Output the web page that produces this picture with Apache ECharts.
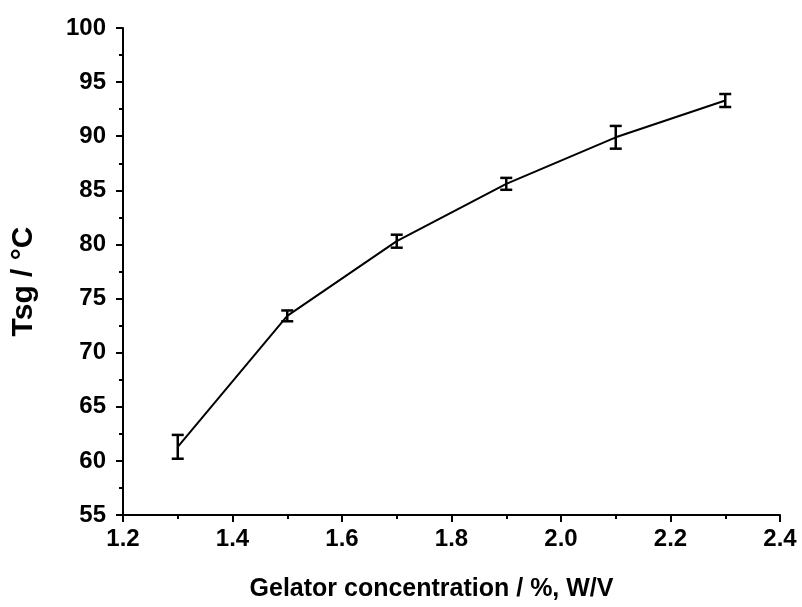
<!DOCTYPE html>
<html><head><meta charset="utf-8">
<script src="https://cdn.jsdelivr.net/npm/echarts@6/dist/echarts.min.js"></script>
<style>html,body{margin:0;padding:0;background:#fff}#c{width:802px;height:607px}</style>
</head><body><div id="c"></div>
<script>
const xValues = [1.3, 1.5, 1.7, 1.9, 2.1, 2.3];
const yValues = [61.3, 73.4, 80.3, 85.6, 89.9, 93.3];
const yErrors = [1.1, 0.5, 0.6, 0.55, 1.05, 0.6];

const lineData = xValues.map((x, i) => [x, yValues[i]]);
const errData = xValues.map((x, i) => [x, yValues[i] - yErrors[i], yValues[i] + yErrors[i]]);

const chart = echarts.init(document.getElementById('c'));
const font = '"Liberation Sans", Arial, sans-serif';
chart.setOption({
  animation: false,
  backgroundColor: '#fff',
  grid: {left: 123, right: 22, top: 28, bottom: 92},
  xAxis: {
    type: 'value', min: 1.2, max: 2.4, interval: 0.2,
    name: 'Gelator concentration / %, W/V', nameLocation: 'middle', nameGap: 62,
    nameTextStyle: {fontFamily: font, fontWeight: 'bold', fontSize: 25, color: '#000', padding: [0, 40, 0, 0]},
    axisLine: {show: true, lineStyle: {color: '#000', width: 2}},
    axisTick: {show: true, inside: false, length: 7, lineStyle: {color: '#000', width: 2}},
    minorTick: {show: true, splitNumber: 2, length: 4, lineStyle: {color: '#000', width: 2}},
    splitLine: {show: false},
    axisLabel: {fontFamily: font, fontWeight: 'bold', fontSize: 24, color: '#000', margin: 12,
      formatter: v => v.toFixed(1)}
  },
  yAxis: {
    type: 'value', min: 55, max: 100, interval: 5,
    name: 'Tsg / °C', nameLocation: 'middle', nameGap: 84, nameRotate: 90,
    nameTextStyle: {fontFamily: font, fontWeight: 'bold', fontSize: 30, color: '#000', padding: [0, 20, 0, 0]},
    axisLine: {show: true, lineStyle: {color: '#000', width: 2}},
    axisTick: {show: true, inside: false, length: 7, lineStyle: {color: '#000', width: 2}},
    minorTick: {show: true, splitNumber: 2, length: 4, lineStyle: {color: '#000', width: 2}},
    splitLine: {show: false},
    axisLabel: {fontFamily: font, fontWeight: 'bold', fontSize: 24, color: '#000', margin: 17}
  },
  series: [
    {type: 'line', data: lineData, showSymbol: false, symbol: 'none',
     lineStyle: {color: '#000', width: 2}, z: 2},
    {type: 'custom', data: errData, z: 3,
     renderItem: function (params, api) {
       const x = api.value(0);
       const lo = api.coord([x, api.value(1)]);
       const hi = api.coord([x, api.value(2)]);
       const w = 6;
       const style = {stroke: '#000', lineWidth: 2.5, fill: 'none'};
       return {type: 'group', children: [
         {type: 'line', shape: {x1: lo[0], y1: lo[1], x2: hi[0], y2: hi[1]}, style: style},
         {type: 'line', shape: {x1: lo[0]-w, y1: lo[1], x2: lo[0]+w, y2: lo[1]}, style: style},
         {type: 'line', shape: {x1: hi[0]-w, y1: hi[1], x2: hi[0]+w, y2: hi[1]}, style: style}
       ]};
     }}
  ]
});
</script></body></html>
